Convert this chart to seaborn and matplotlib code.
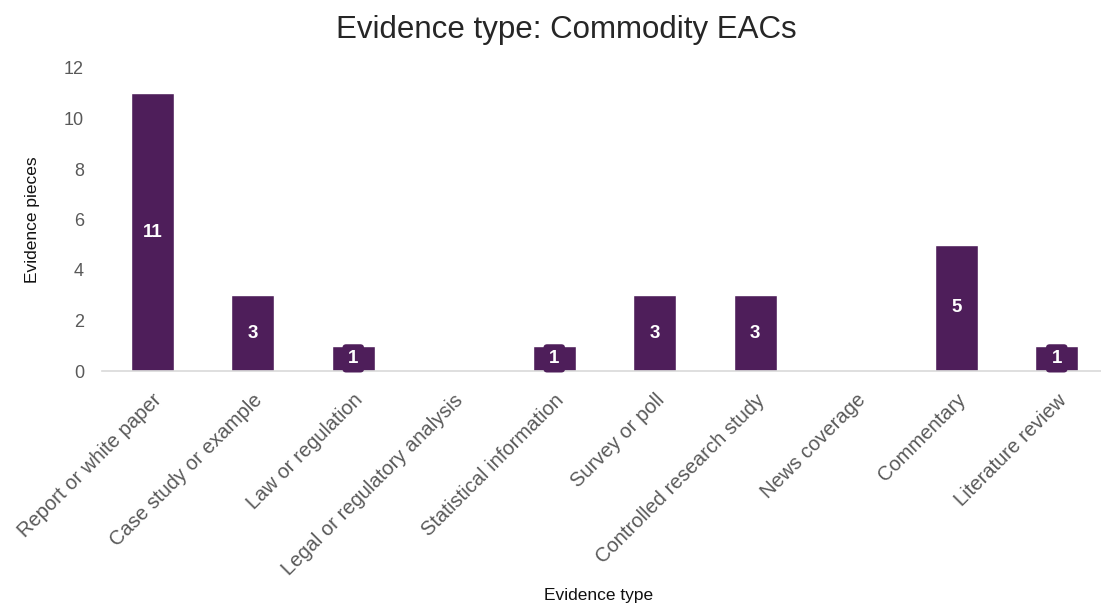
import matplotlib
matplotlib.use("Agg")
import matplotlib.pyplot as plt
import seaborn as sns
import pandas as pd

categories = [
    "Report or white paper",
    "Case study or example",
    "Law or regulation",
    "Legal or regulatory analysis",
    "Statistical information",
    "Survey or poll",
    "Controlled research study",
    "News coverage",
    "Commentary",
    "Literature review",
]
counts = [11, 3, 1, 0, 1, 3, 3, 0, 5, 1]
y_ticks = [0, 2, 4, 6, 8, 10, 12]

bar_color = "#4E1E5A"
tick_gray = "#595959"

sns.set_style("white")
plt.rcParams["font.family"] = ["Liberation Sans", "DejaVu Sans"]

df = pd.DataFrame({"type": categories, "count": counts})

fig = plt.figure(figsize=(11.01, 6.08), dpi=100)
ax = fig.add_axes([102 / 1101, (608 - 371) / 608, (1101 - 102) / 1101, 303 / 608])

sns.barplot(data=df, x="type", y="count", color=bar_color, width=0.43,
            saturation=1, ax=ax)

ax.set_xlim(-0.5, -0.5 + 999 / 100.5)
ax.set_ylim(0, 12)
ax.set_yticks(y_ticks)
ax.tick_params(axis="y", length=0, labelsize=13, labelcolor=tick_gray, pad=13)
ax.tick_params(axis="x", length=0, labelsize=14.5, labelcolor=tick_gray, pad=14)
plt.setp(ax.get_xticklabels(), rotation=45, ha="right", rotation_mode="anchor")

for side in ["top", "right", "left"]:
    ax.spines[side].set_visible(False)
ax.spines["bottom"].set_color("#D9D9D9")
ax.spines["bottom"].set_linewidth(1.2)

# value labels in the middle of each bar
for i, v in enumerate(counts):
    if v == 0:
        continue
    ax.text(i, v / 2, str(v), ha="center", va="center", color="white",
            fontsize=13.5, fontweight="bold",
            bbox=dict(boxstyle="round,pad=0.3,rounding_size=0.2",
                      fc=bar_color, ec="none"))

ax.set_ylabel("Evidence pieces", fontsize=12.5, color="#111111")
ax.yaxis.set_label_coords(-0.062, 0.5)
ax.set_xlabel("Evidence type", fontsize=12.5, color="#111111")
ax.xaxis.set_label_coords(0.497, -0.715)
fig.suptitle("Evidence type: Commodity EACs", fontsize=22.5, x=0.514, y=0.975)

fig.savefig("out.png", dpi=100)
